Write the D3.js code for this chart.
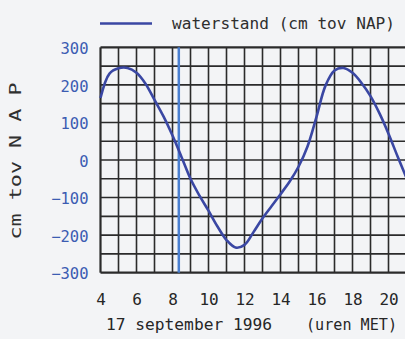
<!DOCTYPE html>
<html><head><meta charset="utf-8">
<script src="https://cdn.jsdelivr.net/npm/d3@7/dist/d3.min.js"></script>
<style>
html,body{margin:0;padding:0;background:#f3f4f6;}
svg{display:block;}
</style></head>
<body>
<svg id="c" width="405" height="339"></svg>
<script>
const hours = [4,4.5,5,5.5,6,6.5,7,7.5,8,8.5,9,9.5,10,10.5,11,11.5,12,12.5,13,13.5,14,14.5,15,15.5,16,16.5,17,17.5,18,18.5,19,19.5,20,20.5,21];
const waterstand = [165,230,244,245,232,203,160,116,65,8,-50,-95,-135,-177,-213,-233,-226,-192,-155,-123,-91,-58,-18,36,115,198,238,245,232,205,170,124,70,10,-48];
const markerHour = [8.35];
const xTicks = [4,6,8,10,12,14,16,18,20];
const yTicks = [300,200,100,0,-100,-200,-300];
const legendLabel = "waterstand (cm tov NAP)";
const yTitle = "cm tov N A P";
const xTitleLeft = "17 september 1996";
const xTitleRight = "(uren MET)";

const svg = d3.select("#c");
const mono = "'DejaVu Sans Mono', 'Liberation Mono', monospace";
const x = d3.scaleLinear().domain([4,21]).range([100.5,406.5]);
const y = d3.scaleLinear().domain([-300,300]).range([272.7,47.3]);

const plot = svg.append("g");
const gridColor = "#2b2b2b";
plot.selectAll("line.v").data(d3.range(4,22,1)).join("line")
  .attr("x1",d=>x(d)).attr("x2",d=>x(d)).attr("y1",y(300)).attr("y2",y(-300))
  .attr("stroke",gridColor).attr("stroke-width",d=>d===4?2.2:1.6);
plot.selectAll("line.h").data(d3.range(-300,301,50)).join("line")
  .attr("x1",x(4)).attr("x2",x(21)).attr("y1",d=>y(d)).attr("y2",d=>y(d))
  .attr("stroke",gridColor).attr("stroke-width",d=>(d===-300||d===300)?2.2:1.6);

plot.selectAll("line.m").data(markerHour).join("line")
  .attr("x1",d=>x(d)).attr("x2",d=>x(d)).attr("y1",y(300)).attr("y2",y(-300))
  .attr("stroke","#4a7fd0").attr("stroke-width",2.5);

const pts = hours.map((h,i)=>[h,waterstand[i]]);
const line = d3.line().x(d=>x(d[0])).y(d=>y(d[1])).curve(d3.curveCatmullRom.alpha(0.5));
plot.append("path").attr("d",line(pts)).attr("fill","none")
  .attr("stroke","#3a47a3").attr("stroke-width",2.6).attr("stroke-linejoin","round");

const yAxis = d3.axisLeft(y).tickValues(yTicks).tickSize(0).tickPadding(12)
  .tickFormat(d=>d<0?"\u2212"+Math.abs(d):String(d));
const ya = svg.append("g").attr("transform",`translate(${x(4)},0)`).call(yAxis);
ya.select(".domain").remove();
ya.selectAll("text").attr("font-family",mono).attr("font-size",15.5)
  .attr("fill","#3b5cb2").attr("dy","0.4em");

const xAxis = d3.axisBottom(x).tickValues(xTicks).tickSize(0).tickPadding(19)
  .tickFormat(d3.format("d"));
const xa = svg.append("g").attr("transform",`translate(0,${y(-300)})`).call(xAxis);
xa.select(".domain").remove();
xa.selectAll("text").attr("font-family",mono).attr("font-size",16)
  .attr("fill","#262626").attr("dy","0").attr("y",32);

svg.append("text").attr("x",106).attr("y",330).attr("font-family",mono).attr("font-size",16)
  .attr("fill","#262626").attr("textLength",166).attr("lengthAdjust","spacingAndGlyphs").text(xTitleLeft);
svg.append("text").attr("x",306).attr("y",330).attr("font-family",mono).attr("font-size",16)
  .attr("fill","#262626").attr("textLength",91).attr("lengthAdjust","spacingAndGlyphs").text(xTitleRight);

svg.append("text").attr("transform","translate(21,161) rotate(-90)").attr("text-anchor","middle")
  .attr("font-family",mono).attr("font-size",15).attr("fill","#303030")
  .attr("textLength",157).attr("lengthAdjust","spacingAndGlyphs").text(yTitle);

svg.append("line").attr("x1",100).attr("x2",152).attr("y1",23.5).attr("y2",23.5)
  .attr("stroke","#3a47a3").attr("stroke-width",2.6);
svg.append("text").attr("x",172).attr("y",29).attr("font-family",mono).attr("font-size",15.5)
  .attr("fill","#2e2e2e").attr("textLength",223).attr("lengthAdjust","spacingAndGlyphs").text(legendLabel);
</script>
</body></html>
